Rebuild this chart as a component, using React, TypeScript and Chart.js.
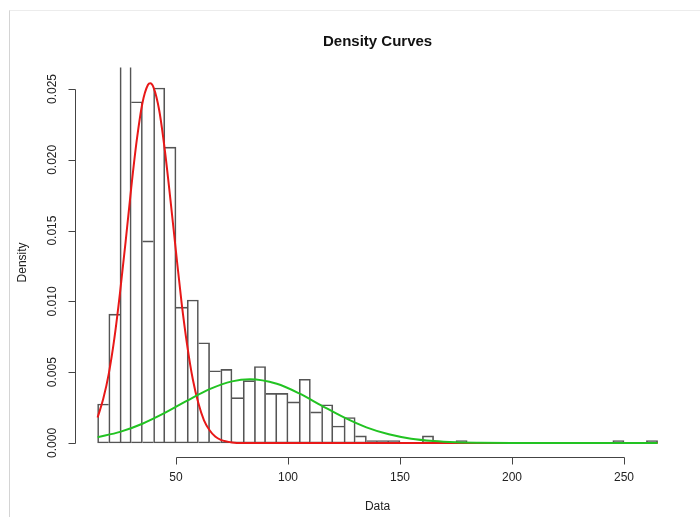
import React, { useEffect, useRef } from "react";
import { Chart, registerables } from "chart.js";

Chart.register(...registerables);

// ---- data ----
const chartTitle = "Density Curves";
const xTitle = "Data";
const yTitle = "Density";

const binWidth = 5;
const binStart = [
  15, 20, 25, 30, 35, 40, 45, 50, 55, 60, 65, 70, 75, 80, 85, 90, 95, 100, 105, 110,
  115, 120, 125, 130, 135, 140, 145, 150, 155, 160, 165, 170, 175, 180, 185, 190, 195,
  200, 205, 210, 215, 220, 225, 230, 235, 240, 245, 250, 255, 260,
];
const density = [
  0.00275, 0.0091, 0.0294, 0.0241, 0.01427, 0.02507, 0.0209, 0.0096, 0.0101, 0.00708,
  0.0051, 0.0052, 0.0032, 0.0044, 0.0054, 0.0035, 0.0035, 0.0029, 0.0045, 0.0022,
  0.0027, 0.0012, 0.0018, 0.0005, 0.00017, 0.00017, 0.00017, 0, 0, 0.0005,
  0, 0, 0.00017, 0, 0, 0, 0,
  0, 0, 0, 0, 0, 0, 0, 0, 0, 0.00017, 0, 0, 0.00017,
];

const redX = [15, 17.5, 20, 22.5, 25, 27.5, 30, 32.5, 35, 37.5, 38.5, 40, 42.5, 45, 47.5, 50, 52.5, 55, 57.5, 60, 62.5, 65, 67.5, 70, 75, 80, 100, 150, 200, 265];
const redY = [0.0018, 0.0031, 0.0049, 0.0074, 0.0106, 0.0142, 0.018, 0.0214, 0.024, 0.0253, 0.0254, 0.0251, 0.0235, 0.0207, 0.0172, 0.0135, 0.0099, 0.0069, 0.0045, 0.0028, 0.0016, 0.0009, 0.00045, 0.00022, 0.00004, 0, 0, 0, 0, 0];

const greenX = [15, 25, 35, 45, 55, 65, 75, 83, 95, 105, 115, 125, 135, 145, 155, 165, 175, 185, 200, 265];
const greenY = [0.00041, 0.00078, 0.00136, 0.00212, 0.00299, 0.0038, 0.00435, 0.0045, 0.00418, 0.0035, 0.00264, 0.0018, 0.0011, 0.00061, 0.0003, 0.00014, 0.000055, 0.00002, 0, 0];

const FONT = '"Liberation Sans", Arial, Helvetica, sans-serif';

const rAxes = {
  id: "rAxes",
  afterDraw(chart: any) {
    const { ctx, chartArea: a } = chart;
    const xs = chart.scales.x;
    const ys = chart.scales.y;
    ctx.save();
    ctx.strokeStyle = "#444";
    ctx.lineWidth = 1;
    ctx.fillStyle = "#222";
    ctx.font = `12px ${FONT}`;
    ctx.textAlign = "center";
    ctx.textBaseline = "middle";

    // x axis (R style)
    const xv = xs.ticks.map((t: any) => t.value);
    const ya = Math.round(a.bottom) + 0.5;
    ctx.beginPath();
    ctx.moveTo(Math.round(xs.getPixelForValue(xv[0])) + 0.5, ya);
    ctx.lineTo(Math.round(xs.getPixelForValue(xv[xv.length - 1])) + 0.5, ya);
    xv.forEach((v: number) => {
      const px = Math.round(xs.getPixelForValue(v)) + 0.5;
      ctx.moveTo(px, ya);
      ctx.lineTo(px, ya + 7);
    });
    ctx.stroke();
    xv.forEach((v: number) => ctx.fillText(String(v), xs.getPixelForValue(v), a.bottom + 20));
    ctx.fillText(xTitle, (a.left + a.right) / 2, a.bottom + 49);

    // y axis
    const yv = ys.ticks.map((t: any) => t.value);
    const xa = Math.round(a.left) + 0.5;
    ctx.beginPath();
    ctx.moveTo(xa, Math.round(ys.getPixelForValue(yv[0])) + 0.5);
    ctx.lineTo(xa, Math.round(ys.getPixelForValue(yv[yv.length - 1])) + 0.5);
    yv.forEach((v: number) => {
      const py = Math.round(ys.getPixelForValue(v)) + 0.5;
      ctx.moveTo(xa, py);
      ctx.lineTo(xa - 7, py);
    });
    ctx.stroke();
    yv.forEach((v: number) => {
      ctx.save();
      ctx.translate(a.left - 23, ys.getPixelForValue(v));
      ctx.rotate(-Math.PI / 2);
      ctx.fillText(v.toFixed(3), 0, 0);
      ctx.restore();
    });
    ctx.save();
    ctx.translate(a.left - 53, (a.top + a.bottom) / 2);
    ctx.rotate(-Math.PI / 2);
    ctx.fillText(yTitle, 0, 0);
    ctx.restore();
    ctx.restore();
  },
};

export default function App() {
  const ref = useRef<HTMLCanvasElement | null>(null);

  useEffect(() => {
    if (!ref.current) return;
    const bars = binStart.map((s, i) => ({ x: s + binWidth / 2, y: density[i] }));
    const red = redX.map((x, i) => ({ x, y: redY[i] }));
    const green = greenX.map((x, i) => ({ x, y: greenY[i] }));

    const chart = new Chart(ref.current, {
      type: "bar",
      data: {
        datasets: [
          {
            type: "line",
            data: green,
            borderColor: "#22c322",
            borderWidth: 2,
            pointRadius: 0,
            cubicInterpolationMode: "monotone",
            fill: false,
            order: 0,
          } as any,
          {
            type: "line",
            data: red,
            borderColor: "#e81818",
            borderWidth: 2,
            pointRadius: 0,
            cubicInterpolationMode: "monotone",
            fill: false,
            order: 1,
          } as any,
          {
            type: "bar",
            data: bars,
            backgroundColor: "rgba(255,255,255,0)",
            borderColor: "#555",
            borderWidth: (c: any) => {
              const i = c.dataIndex;
              const h = density[i];
              const prev = i > 0 ? density[i - 1] : 0;
              const next = i < density.length - 1 ? density[i + 1] : 0;
              return { left: h > prev ? 1 : 0, top: 1, bottom: 1, right: h >= next ? 1 : 0 };
            },
            borderSkipped: false,
            barPercentage: 1,
            categoryPercentage: 1,
            clip: 0,
            order: 2,
          } as any,
        ],
      },
      options: {
        responsive: false,
        animation: false,
        devicePixelRatio: 1,
        layout: { padding: { left: 75.2, right: 20, top: 0, bottom: 59.6 } },
        plugins: {
          legend: { display: false },
          tooltip: { enabled: false },
          title: {
            display: true,
            text: chartTitle,
            color: "#111",
            font: { family: FONT, size: 15, weight: "bold" },
            padding: { top: 33, bottom: 16.5 },
          },
        },
        scales: {
          x: {
            type: "linear",
            display: false,
            offset: false,
            min: 5,
            max: 275,
            ticks: { stepSize: 50, includeBounds: false },
          },
          y: {
            type: "linear",
            display: false,
            min: -0.00102,
            max: 0.02652,
            ticks: { stepSize: 0.005, includeBounds: false },
          },
        },
      } as any,
      plugins: [rAxes],
    });
    return () => chart.destroy();
  }, []);

  return (
    <div style={{ position: "fixed", left: 0, top: 0, width: 700, height: 517, background: "#fff" }}>
      <div
        style={{
          position: "absolute",
          left: 9,
          top: 10,
          width: 700,
          height: 517,
          borderLeft: "1px solid #d4d4d4",
          borderTop: "1px solid #ececec",
        }}
      />
      <canvas ref={ref} width={700} height={517} style={{ position: "absolute", left: 0, top: 0 }} />
    </div>
  );
}
